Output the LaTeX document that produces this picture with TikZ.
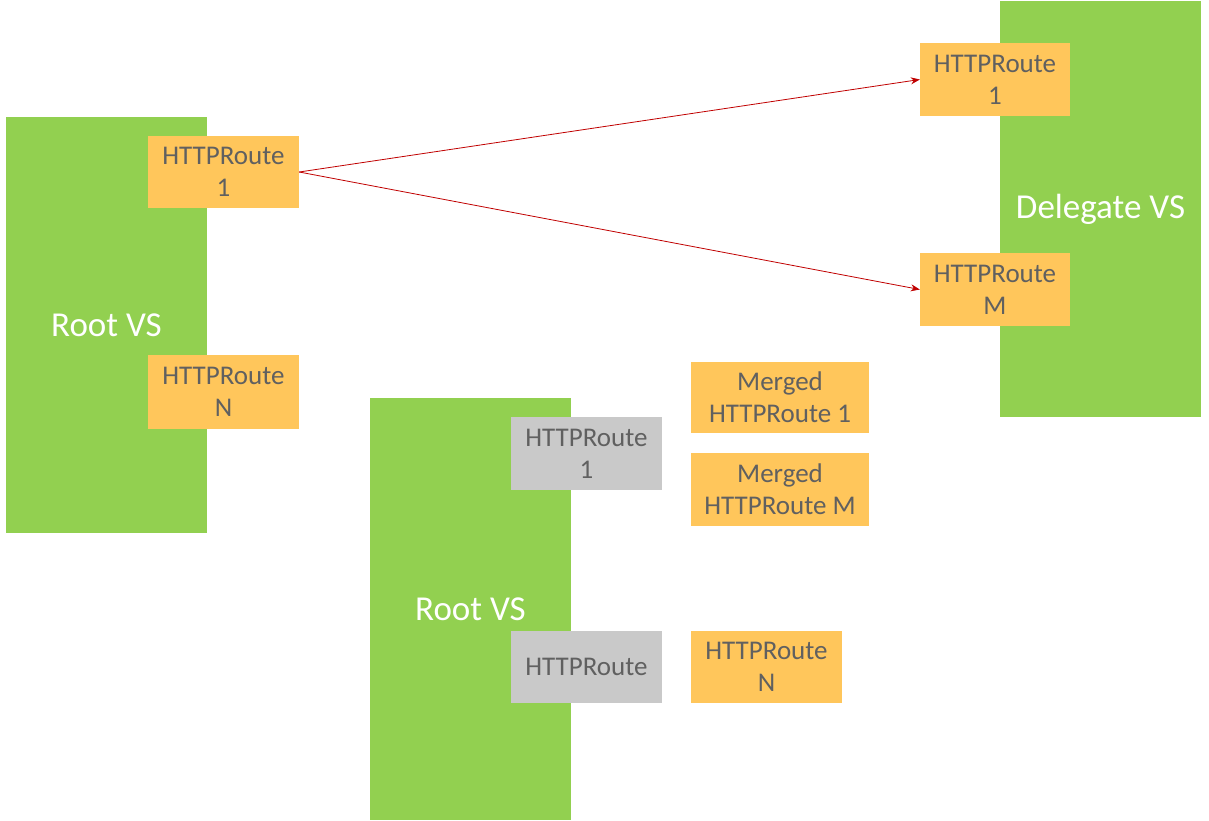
\documentclass[tikz,border=0pt]{standalone}
\usepackage{fontspec}
\setmainfont{Carlito}
\usetikzlibrary{arrows.meta}
\definecolor{vsgreen}{HTML}{92D050}
\definecolor{rtorange}{HTML}{FFC65B}
\definecolor{rtgrey}{HTML}{C9C9C9}
\definecolor{txtgrey}{HTML}{606060}
\definecolor{arrred}{HTML}{C00000}
\tikzset{
  vsbox/.style={fill=vsgreen, draw=none, inner sep=0pt, minimum width=201pt, text=white, font=\fontsize{35}{42}\selectfont},
  routebox/.style={fill=rtorange, draw=none, inner sep=0pt, minimum width=151pt, minimum height=73pt, text=txtgrey, align=center, font=\fontsize{27}{32}\selectfont},
  greybox/.style={routebox, fill=rtgrey},
  conn/.style={draw=arrred, line width=0.8pt, -{Stealth[length=9pt,width=7pt]}}
}
\begin{document}
\begin{tikzpicture}[x=1pt,y=-1pt]
\useasboundingbox (0,0) rectangle (1209,820);
% green VS blocks
\node[vsbox, minimum height=416pt] (rvs1) at (106.5,325) {Root VS};
\node[vsbox, minimum height=416pt] (dvs) at (1100.5,209) {Delegate VS};
\node[vsbox, minimum height=422pt] (rvs2) at (470.5,609) {Root VS};
% route boxes
\node[routebox, minimum height=72pt] (r1) at (223.5,172) {HTTPRoute\\1};
\node[routebox, minimum height=74pt] (rN) at (223.5,392) {HTTPRoute\\N};
\node[routebox, minimum width=150pt] (d1) at (995,79.5) {HTTPRoute\\1};
\node[routebox, minimum width=150pt] (dM) at (995,289.5) {HTTPRoute\\M};
\node[greybox] (g1) at (586.5,453.5) {HTTPRoute\\1};
\node[greybox, minimum height=72pt] (g2) at (586.5,667) {HTTPRoute};
\node[routebox, minimum width=178pt, minimum height=71pt] (m1) at (780,397.5) {Merged\\HTTPRoute 1};
\node[routebox, minimum width=178pt] (mM) at (780,489.5) {Merged\\HTTPRoute M};
\node[routebox, minimum height=72pt] (nN) at (766.5,667) {HTTPRoute\\N};
% connectors
\draw[conn] (r1.east) -- (d1.west);
\draw[conn] (r1.east) -- (dM.west);
\end{tikzpicture}
\end{document}
